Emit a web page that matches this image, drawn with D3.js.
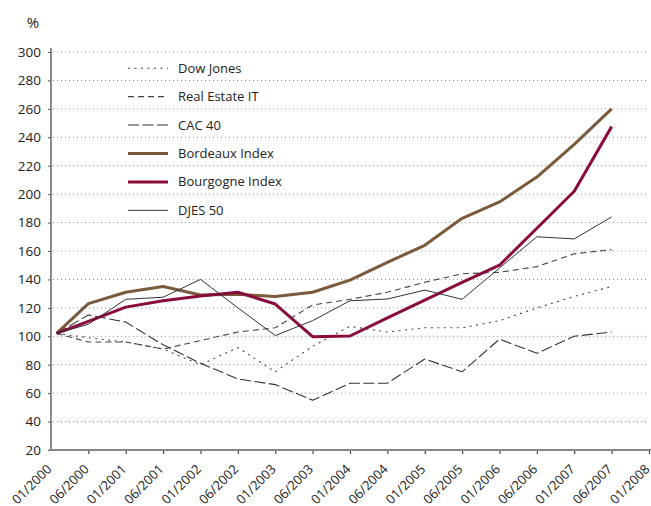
<!DOCTYPE html>
<html>
<head>
<meta charset="utf-8">
<script src="https://cdn.jsdelivr.net/npm/d3@7"></script>
<style>
    body { margin: 0; background: #fff; }
    svg { display: block; font-family: "Open Sans", "Noto Sans", sans-serif; }
</style>
</head>
<body>
<svg id="chart" width="651" height="506"></svg>
<script>
const tickLabels = [
    "01/2000", "06/2000", "01/2001", "06/2001", "01/2002", "06/2002", "01/2003", "06/2003",
    "01/2004", "06/2004", "01/2005", "06/2005", "01/2006", "06/2006", "01/2007", "06/2007", "01/2008",
]
const yTicks = [20, 40, 60, 80, 100, 120, 140, 160, 180, 200, 220, 240, 260, 280, 300]

// position of each observation on the tick index axis (first one sits just after 01/2000)
const obsIndex = [0.15, 1, 2, 3, 4, 5, 6, 7, 8, 9, 10, 11, 12, 13, 14, 15]

const dowJones = [102, 99, 96, 91, 80, 92, 75, 93, 107, 103, 106, 106, 111, 120, 128, 135]
const realEstate = [102, 96, 96, 91, 97, 103, 106, 122, 126, 131, 138, 144, 145, 149, 158, 161]
const cac40 = [102, 115, 110, 94, 81, 70, 66, 55, 67, 67, 84, 75, 98, 88, 100, 103]
const bordeaux = [102, 123, 131, 135, 129, 129.5, 128, 131, 139.5, 152, 164, 183, 194.5, 212, 235, 260]
const bourgogne = [102, 110.5, 120.5, 125, 128.3, 131, 122.7, 99.7, 100.2, 113, 125.5, 138, 150, 176, 202, 247.5]
const djes50 = [102, 108.5, 126, 127.5, 140, 120, 100.5, 111, 125, 126.2, 132.5, 126, 148, 170, 168.5, 184]

// legend rows sit halfway between these gridlines
const legendRows = [290, 270, 250, 230, 210, 190]

const series = [
    { name: "Dow Jones", values: dowJones, color: "#444", width: 1.1, dash: "2,4.5" },
    { name: "Real Estate IT", values: realEstate, color: "#444", width: 1.1, dash: "6,4" },
    { name: "CAC 40", values: cac40, color: "#333", width: 1.1, dash: "11,3.5" },
    { name: "Bordeaux Index", values: bordeaux, color: "#7a5a3b", width: 3, dash: null },
    { name: "Bourgogne Index", values: bourgogne, color: "#8a0b3f", width: 3, dash: null },
    { name: "DJES 50", values: djes50, color: "#333", width: 1, dash: null },
]

const svg = d3.select("#chart")
const x = d3.scaleLinear().domain([0, tickLabels.length - 1]).range([51, 649])
const y = d3.scaleLinear().domain([20, 300]).range([450, 52])

// dotted gridlines
svg.append("g")
    .selectAll("line")
    .data(yTicks.filter((d) => d > 20))
    .join("line")
    .attr("x1", x(0) + 2)
    .attr("x2", 649)
    .attr("y1", (d) => y(d))
    .attr("y2", (d) => y(d))
    .attr("stroke", "#8a8a8a")
    .attr("stroke-width", 1)
    .attr("stroke-dasharray", "1,3")

// y axis
const yAxis = svg.append("g").attr("transform", `translate(${x(0)},0)`)
    .call(d3.axisLeft(y).tickValues(yTicks).tickSize(3).tickPadding(7))
yAxis.select(".domain").remove()
yAxis.selectAll(".tick line").attr("stroke", "#555")
yAxis.selectAll("text").attr("fill", "#222").style("font-size", "13.5px")
    .style("font-family", '"Open Sans", "Noto Sans", sans-serif')
svg.append("line")
    .attr("x1", x(0)).attr("x2", x(0))
    .attr("y1", 48).attr("y2", y(20))
    .attr("stroke", "#666").attr("stroke-width", 1.5)

svg.append("text")
    .attr("x", 33).attr("y", 28)
    .attr("text-anchor", "middle")
    .attr("fill", "#222")
    .style("font-size", "15px")
    .text("%")

// x axis
const xAxis = svg.append("g").attr("transform", `translate(0,${y(20)})`)
    .call(d3.axisBottom(x).tickValues(d3.range(tickLabels.length)).tickSize(4).tickFormat((i) => tickLabels[i]))
xAxis.select(".domain").remove()
xAxis.selectAll(".tick line").attr("stroke", "#444").attr("stroke-width", 1.2)
xAxis.selectAll(".tick").filter((d) => d === 0).select("line").remove()
xAxis.selectAll("text")
    .attr("fill", "#222")
    .attr("text-anchor", "end")
    .attr("dy", 0)
    .attr("y", 0)
    .attr("transform", "translate(1,20) rotate(-45)")
    .style("font-size", "13px")
    .style("font-family", '"Open Sans", "Noto Sans", sans-serif')
svg.append("line")
    .attr("x1", x(0) - 2).attr("x2", 651)
    .attr("y1", y(20)).attr("y2", y(20))
    .attr("stroke", "#888").attr("stroke-width", 2)

// series lines
const line = d3.line()
    .x((d, i) => x(obsIndex[i]))
    .y((d) => y(d))

svg.append("g")
    .selectAll("path")
    .data(series)
    .join("path")
    .attr("fill", "none")
    .attr("stroke", (s) => s.color)
    .attr("stroke-width", (s) => s.width)
    .attr("stroke-dasharray", (s) => s.dash)
    .attr("stroke-linejoin", "round")
    .attr("d", (s) => line(s.values))

// legend
const legend = svg.append("g")
    .selectAll("g")
    .data(series)
    .join("g")
    .attr("transform", (s, i) => `translate(128,${y(legendRows[i]) + 2})`)

legend.append("line")
    .attr("x1", 0).attr("x2", 40)
    .attr("stroke", (s) => s.color)
    .attr("stroke-width", (s) => s.width)
    .attr("stroke-dasharray", (s) => s.dash)

legend.append("text")
    .attr("x", 50)
    .attr("dy", "0.35em")
    .attr("fill", "#222")
    .style("font-size", "13px")
    .text((s) => s.name)
</script>
</body>
</html>
